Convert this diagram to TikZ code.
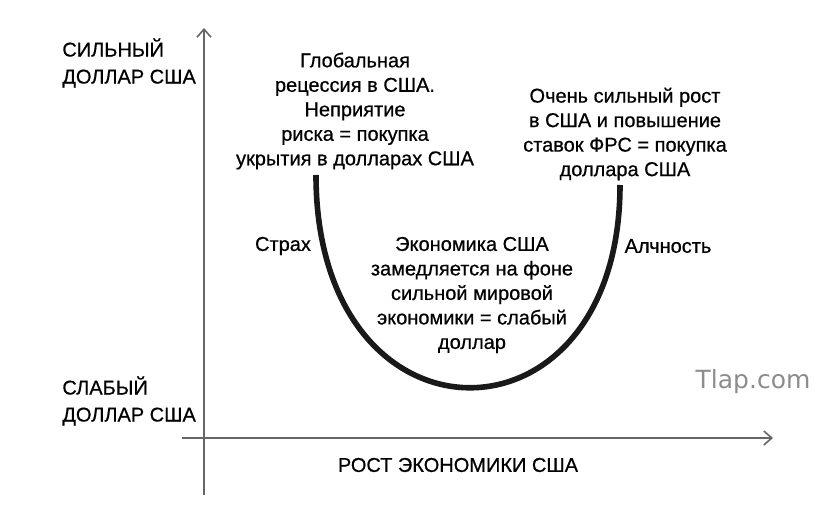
\documentclass[tikz,border=0pt]{standalone}
\usepackage{fontspec}
\setmainfont{Liberation Sans}
\newfontfamily\labelfont{Liberation Sans}[FakeBold=0.6]
\newfontfamily\markfont{DejaVu Sans}
\usetikzlibrary{arrows.meta}

\begin{document}
\begin{tikzpicture}[x=0.5pt, y=-0.5pt,
    axis/.style={draw=black!60, line width=0.8pt, -{Straight Barb[length=4pt,width=7pt]}},
    ucurve/.style={line width=2.8pt, black!90},
    lbl/.style={font=\labelfont\fontsize{10}{12.25}\selectfont, align=center, inner sep=0pt},
    side/.style={font=\labelfont\fontsize{10}{13.5}\selectfont, align=left, inner sep=0pt, anchor=west}
  ]
  \useasboundingbox (0,0) rectangle (837,508);

  % Axes
  \coordinate (ybot) at (204,495);
  \coordinate (ytop) at (204,28);
  \coordinate (xleft) at (182,438);
  \coordinate (xright) at (773,438);
  \draw[axis] (ybot) -- (ytop);
  \draw[axis] (xleft) -- (xright);

  % Axis labels
  \node[side] (strong) at (62,63) {СИЛЬНЫЙ\\ДОЛЛАР США};
  \node[side] (weak) at (62,401) {СЛАБЫЙ\\ДОЛЛАР США};
  \node[lbl] (growth) at (458,465) {РОСТ ЭКОНОМИКИ США};

  % Dollar smile
  \coordinate (ustart) at (316,175);
  \coordinate (uend) at (620,185);
  \draw[ucurve] (ustart) .. controls (316,457) and (620,457) .. (uend);

  % Annotations
  \node[lbl] (recession) at (355,111)
    {Глобальная\\рецессия в США.\\Неприятие\\риска = покупка\\укрытия в долларах США};
  \node[lbl] (boom) at (625,134)
    {Очень сильный рост\\в США и повышение\\ставок ФРС = покупка\\доллара США};
  \node[lbl] (fear) at (283,246) {Страх};
  \node[lbl] (greed) at (668,246) {Алчность};
  \node[lbl] (slowdown) at (472,295)
    {Экономика США\\замедляется на фоне\\сильной мировой\\экономики = слабый\\доллар};

  % Watermark
  \node[font=\markfont\fontsize{12.5}{14}\selectfont, text=black!45, inner sep=0pt] (mark) at (753,382) {Tlap.com};
\end{tikzpicture}
\end{document}
